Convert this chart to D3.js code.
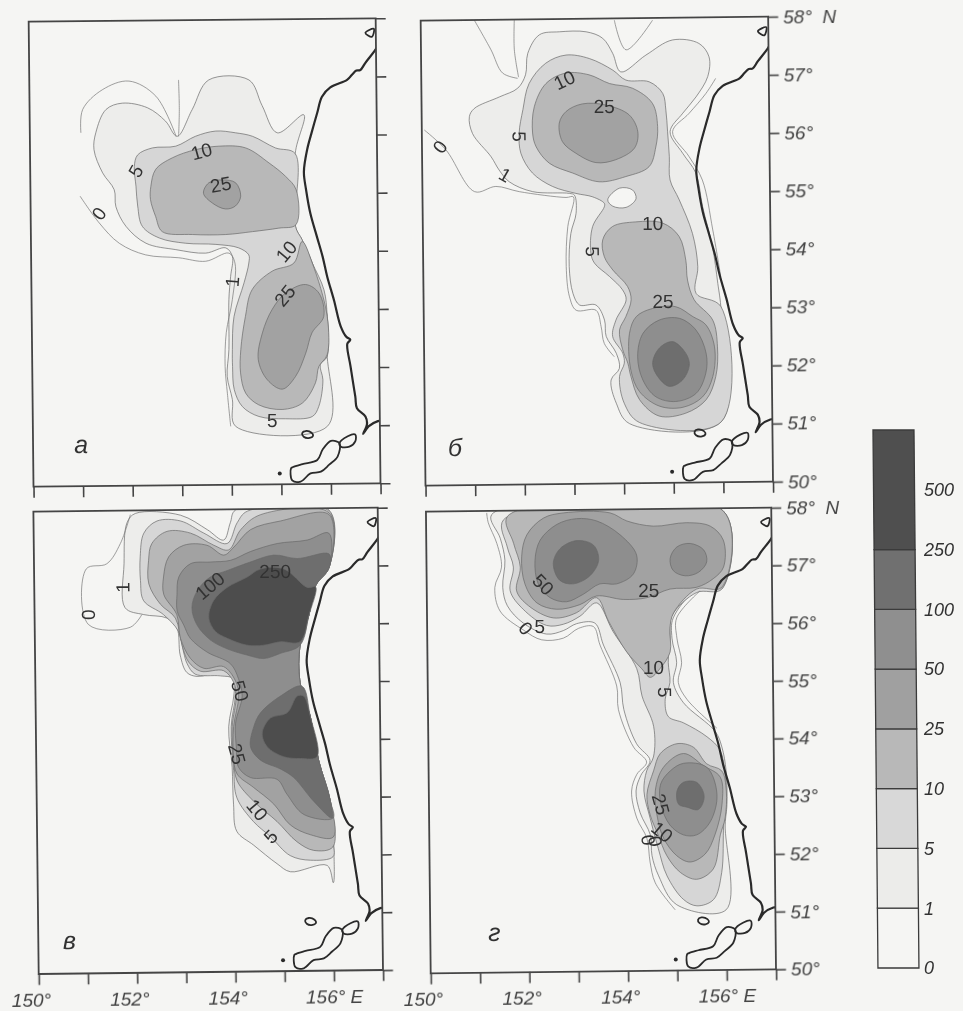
<!DOCTYPE html>
<html>
<head>
<meta charset="utf-8">
<script src="https://cdn.jsdelivr.net/npm/d3@7"></script>
<style>
  html, body { margin: 0; padding: 0; background: #f5f5f3; }
  svg { display: block; }
  text { font-family: "Liberation Sans", sans-serif; fill: #333; }
  .tick text { font-style: italic; font-size: 19px; fill: #444; }
</style>
</head>
<body>
<svg id="chart" width="963" height="1011"></svg>
<script>
// isoline levels and the legend
const legendLabels = ['0', '1', '5', '10', '25', '50', '100', '250', '500'];
const levels = [1, 5, 10, 25, 50, 100, 250];
const levelFills = ['#ededeb', '#d6d6d6', '#b8b8b8', '#a2a2a2', '#8e8e8e', '#6e6e6e', '#4e4e4e'];
const legendFills = ['#f5f5f3', '#ececea', '#d8d8d8', '#b8b8b8', '#a0a0a0', '#8f8f8f', '#707070', '#505050'];

// coast [lon, lat]
const coast = [[157.05,57.55],[156.99,57.46],[156.78,57.23],[156.68,57.11],[156.60,57.1],[156.51,57.03],[156.41,56.94],[156.07,56.81],[155.90,56.65],[155.80,56.37],[155.69,56.05],[155.59,55.74],[155.52,55.36],[155.56,55.05],[155.64,54.65],[155.77,54.24],[155.88,53.90],[155.97,53.55],[156.10,53.15],[156.23,52.70],[156.34,52.52],[156.42,52.47],[156.36,52.40],[156.42,52.01],[156.51,51.49],[156.54,51.29],[156.71,51.15],[156.74,51.02],[156.66,50.85],[156.77,50.98],[156.96,51.07],[157.05,51.08]];
const islandOne = [[155.20,50.26],[155.22,50.05],[155.39,50.03],[155.59,50.17],[155.80,50.20],[155.97,50.32],[156.14,50.46],[156.18,50.69],[156.01,50.73],[155.84,50.58],[155.73,50.40],[155.43,50.33],[155.24,50.28]];
const islandTwo = [[156.18,50.69],[156.35,50.81],[156.50,50.84],[156.50,50.72],[156.38,50.63],[156.21,50.63]];
const islandOval = [[155.43,50.86],[155.50,50.90],[155.62,50.87],[155.65,50.82],[155.58,50.78],[155.46,50.80]];
const lake = [[156.79,57.75],[156.96,57.82],[156.92,57.68]];
const islet = [154.97, 50.17];

// panel a
const a1 = [[152.97,55.97],[152.74,56.23],[152.38,56.46],[151.87,56.54],[151.54,56.43],[151.33,56.03],[151.29,55.74],[151.46,55.34],[151.69,55.05],[151.72,54.76],[151.92,54.42],[152.32,54.13],[152.92,54.02],[153.52,53.96],[153.93,54.05],[154.06,53.90],[154.02,53.56],[153.98,53.16],[153.97,52.30],[153.93,51.84],[154.03,51.44],[154.09,50.98],[155.94,50.98],[155.95,52.24],[155.96,52.87],[155.67,53.79],[155.47,54.19],[155.34,54.42],[155.35,55.68],[155.53,56.34],[154.99,56.03],[154.69,56.5],[154.43,56.94],[153.62,56.94],[153.28,56.43]];
const a5 = [[152.17,55.65],[152.47,55.77],[152.94,55.80],[153.34,55.97],[153.75,56.06],[154.15,56.03],[154.49,55.97],[154.95,55.77],[155.35,55.67],[155.34,54.42],[155.47,54.19],[155.67,53.79],[155.90,53.33],[155.96,52.87],[155.95,52.18],[155.81,52.04],[155.86,51.78],[155.77,51.32],[155.64,51.15],[155.10,51.11],[154.56,51.15],[154.23,51.32],[154.07,51.61],[154.04,52.01],[154.04,52.30],[154.08,52.87],[154.29,53.45],[154.39,53.79],[154.39,53.93],[154.19,54.05],[153.73,54.11],[153.12,54.13],[152.59,54.22],[152.25,54.42],[152.16,54.77],[152.13,55.11],[152.10,55.45]];
const a10Upper = [[152.43,55.11],[152.53,55.40],[152.87,55.60],[153.34,55.74],[153.81,55.80],[154.35,55.77],[154.82,55.51],[155.15,55.28],[155.36,55.05],[155.35,54.45],[155.00,54.39],[154.47,54.33],[153.93,54.28],[153.26,54.28],[152.65,54.33],[152.52,54.59],[152.42,54.88]];
const a10Lower = [[155.47,54.16],[155.30,53.79],[154.86,53.65],[154.45,53.33],[154.31,52.87],[154.21,52.30],[154.20,51.90],[154.30,51.55],[154.56,51.35],[155.03,51.27],[155.44,51.38],[155.71,51.73],[155.78,52.01],[155.95,52.21],[155.96,52.87],[155.67,53.79]];
const a25Upper = [[153.49,54.99],[153.60,55.17],[153.87,55.22],[154.14,55.17],[154.24,54.94],[154.13,54.77],[153.93,54.72],[153.67,54.82]];
const a25Lower = [[154.85,52.99],[155.12,53.27],[155.53,53.42],[155.80,53.27],[155.89,52.87],[155.65,52.59],[155.52,52.24],[155.31,51.84],[155.04,51.62],[154.74,51.78],[154.56,52.13],[154.65,52.59]];
const aZeroLines = [
  [[151.00,54.94],[151.38,54.48],[151.78,54.13],[152.31,53.93],[152.98,53.88],[153.52,53.82],[153.99,53.96],[154.11,53.79],[154.05,53.16],[153.92,52.59],[153.89,52.01],[153.93,51.55],[153.99,50.98]],
  [[151.03,56.03],[151.07,56.43],[151.47,56.77],[152.01,56.92],[152.55,56.66],[152.95,55.97]],
  [[153.0,55.97],[153.02,56.43],[153.01,56.94]]
];
const aLabels = [['10',153.46,55.71,-15],['5',152.13,55.37,-60],['25',153.84,55.14,-10],['0',151.38,54.64,-55],['10',155.15,53.99,-50],['1',154.05,53.47,-85],['25',155.11,53.23,-50],['5',154.83,51.08,0]];

// panel b
const b1 = [[150.96,56.28],[151.06,56.42],[151.57,56.62],[151.94,56.77],[152.10,57.0],[152.15,57.37],[152.39,57.69],[152.79,57.74],[153.33,57.74],[153.66,57.63],[153.86,57.37],[154.02,57.05],[154.53,57.34],[155.07,57.60],[155.60,57.54],[155.80,57.31],[155.77,56.97],[155.53,56.62],[155.26,56.34],[155.00,56.02],[155.25,55.65],[155.51,55.31],[155.64,54.73],[155.83,54.04],[155.93,53.41],[155.99,52.95],[155.97,51.03],[154.12,51.0],[153.86,51.35],[153.76,51.75],[153.93,51.95],[153.87,52.21],[153.67,52.50],[153.64,52.78],[153.47,53.04],[153.14,53.04],[153.01,53.24],[152.94,53.70],[152.98,54.27],[153.09,54.62],[153.06,54.93],[152.96,54.96],[152.22,54.99],[151.75,55.16],[151.55,55.36],[151.39,55.59],[151.02,55.99]];
const b5 = [[151.96,56.0],[152.04,56.40],[152.17,56.85],[152.51,57.20],[152.92,57.34],[153.39,57.28],[153.86,57.08],[154.12,56.91],[154.59,56.88],[154.86,56.68],[154.92,56.39],[154.95,56.02],[154.98,55.59],[154.99,55.19],[155.17,54.85],[155.43,54.27],[155.53,53.70],[155.49,53.24],[155.99,53.01],[155.97,51.03],[154.32,51.02],[154.02,51.35],[153.93,51.81],[154.03,52.04],[154.0,52.21],[153.80,52.50],[153.87,52.78],[154.08,53.13],[154.01,53.30],[153.75,53.53],[153.45,53.76],[153.38,53.93],[153.42,54.39],[153.66,54.73],[153.66,54.79],[153.43,54.90],[153.09,54.96],[152.62,55.08],[152.22,55.31],[151.99,55.65]];
const bHole = [[153.73,54.85],[153.97,55.05],[154.23,55.02],[154.30,54.87],[154.10,54.72],[153.83,54.74]];
const b10Upper = [[152.23,56.0],[152.27,56.45],[152.51,56.85],[152.91,57.03],[153.38,57.0],[153.79,56.85],[154.25,56.77],[154.65,56.51],[154.75,56.11],[154.71,55.76],[154.57,55.42],[154.10,55.25],[153.56,55.16],[153.03,55.31],[152.56,55.48],[152.30,55.76]];
const b10Lower = [[153.62,54.16],[153.82,54.39],[154.29,54.47],[154.83,54.45],[155.16,54.22],[155.29,53.81],[155.32,53.47],[155.45,53.13],[155.82,52.78],[155.91,52.32],[155.87,51.81],[155.67,51.41],[155.26,51.18],[154.72,51.13],[154.33,51.41],[154.16,51.81],[154.10,52.04],[154.0,52.27],[153.94,52.61],[154.07,52.84],[154.18,53.13],[154.11,53.36],[153.82,53.64],[153.65,53.87]];
const b25Upper = [[152.77,56.17],[152.91,56.37],[153.24,56.50],[153.71,56.48],[154.18,56.31],[154.35,56.02],[154.28,55.74],[153.90,55.54],[153.50,55.49],[153.10,55.65],[152.83,55.85]];
const b25Lower = [[154.14,52.55],[154.28,52.84],[154.61,52.98],[155.08,53.01],[155.42,52.84],[155.68,52.70],[155.85,52.32],[155.81,51.81],[155.60,51.46],[155.20,51.28],[154.73,51.30],[154.33,51.55],[154.16,51.92]];
const b50 = [[154.30,52.15],[154.41,52.55],[154.74,52.78],[155.15,52.81],[155.48,52.61],[155.68,52.21],[155.67,51.87],[155.47,51.52],[155.06,51.38],[154.66,51.46],[154.40,51.75]];
const b100 = [[154.60,52.04],[154.74,52.30],[155.01,52.41],[155.27,52.21],[155.34,52.01],[155.20,51.75],[154.93,51.64],[154.70,51.81]];
const bZeroLines = [
  [[150.05,56.05],[150.48,55.71],[151.05,54.99],[151.48,55.08],[151.95,54.99],[152.89,54.89],[153.04,54.90],[152.92,54.39],[152.88,53.70],[152.94,53.18],[153.07,52.95],[153.47,52.95],[153.57,52.67],[153.63,52.38],[153.83,52.15]],
  [[151.08,57.94],[151.41,57.43],[151.64,57.03],[151.94,56.94]],
  [[151.885,57.94],[151.88,57.43],[151.96,56.96]],
  [[153.90,57.94],[154.13,57.43],[154.67,57.94]],
  [[155.93,56.94],[155.73,56.68],[155.39,56.34],[155.05,56.02],[155.38,55.59],[155.64,55.19],[155.84,54.33],[155.99,53.53]]
];
const bLabels = [['10',152.88,56.91,-25],['25',153.68,56.45,0],['5',151.96,55.94,90],['0',150.36,55.76,-55],['1',151.67,55.28,30],['10',154.63,54.45,0],['5',153.41,53.96,90],['25',154.82,53.1,0]];

// panel c, shared east edge of the survey
const cEast = [[156.0,56.97],[155.72,56.65],[155.58,56.15],[155.39,55.62],[155.38,54.98],[155.58,54.39],[155.74,53.63],[155.97,52.92]];
const c1 = [[151.90,57.74],[152.07,57.90],[152.99,57.87],[153.53,57.62],[153.86,57.44],[154.0,57.74],[154.11,57.96],[156.01,57.96],...cEast,[156.03,52.04],[156.01,51.51],[155.89,51.81],[155.14,51.70],[154.87,51.84],[154.40,52.16],[154.06,52.40],[154.0,52.87],[153.98,53.51],[153.92,54.21],[154.03,54.74],[154.03,55.09],[153.76,55.15],[153.29,55.08],[153.08,55.15],[152.95,55.45],[152.89,55.92],[152.69,56.09],[152.22,56.15],[151.84,56.27],[151.83,57.03]];
const c5 = [[152.16,57.15],[152.24,57.56],[152.51,57.77],[152.99,57.77],[153.46,57.56],[153.93,57.38],[154.14,57.74],[154.35,57.94],[156.01,57.94],...cEast,[156.02,52.2],[156.01,51.96],[155.55,51.9],[155.14,51.98],[154.74,52.31],[154.40,52.57],[154.07,52.98],[154.01,53.45],[153.97,54.21],[154.06,54.74],[154.03,55.04],[153.76,55.09],[153.25,55.12],[153.09,55.30],[153.02,55.50],[152.92,55.86],[152.62,56.15],[152.22,56.39],[152.16,56.74]];
const c10 = [[152.33,57.09],[152.40,57.38],[152.71,57.59],[153.19,57.56],[153.66,57.35],[153.96,57.27],[154.21,57.62],[154.62,57.88],[156.01,57.91],...cEast,[156.01,52.13],[155.62,52.07],[155.28,52.22],[154.88,52.57],[154.41,52.92],[154.08,53.27],[154.01,53.63],[153.99,54.21],[154.08,54.74],[154.03,54.98],[153.83,55.18],[153.36,55.17],[153.12,55.33],[152.99,55.62],[152.86,56.09],[152.56,56.33],[152.33,56.68]];
const c25 = [[152.63,56.80],[152.74,57.15],[153.05,57.35],[153.52,57.35],[153.86,57.18],[154.07,57.32],[154.41,57.62],[155.02,57.77],[156.01,57.88],...cEast,[156.02,52.30],[155.56,52.34],[155.15,52.51],[154.82,52.87],[154.41,53.16],[154.08,53.39],[154.01,53.69],[154.02,54.21],[154.13,54.74],[154.07,55.0],[153.83,55.25],[153.43,55.22],[153.16,55.39],[152.96,55.74],[152.89,56.15],[152.63,56.50]];
const c50 = [[152.90,56.50],[152.94,56.80],[153.18,57.03],[153.59,57.06],[154.0,57.09],[154.40,57.24],[154.95,57.38],[155.56,57.44],[156.0,57.56],...cEast,[156.02,52.63],[155.43,52.69],[155.09,53.04],[154.89,53.30],[154.35,53.33],[154.11,53.51],[154.07,53.86],[154.06,54.27],[154.20,54.74],[154.13,55.04],[153.97,55.30],[153.50,55.50],[153.16,55.74],[153.03,55.97],[152.90,56.21]];
const c100Upper = [[153.20,56.27],[153.31,56.56],[153.58,56.80],[153.92,56.91],[154.40,57.06],[154.88,57.18],[155.35,57.12],[156.0,57.2],[156.0,56.97],[155.72,56.65],[155.58,56.15],[155.39,55.62],[154.99,55.48],[154.65,55.39],[154.31,55.45],[153.90,55.56],[153.57,55.71],[153.30,55.97]];
const c100Lower = [[154.43,54.21],[154.57,54.45],[154.98,54.74],[155.42,54.91],[155.58,54.39],[155.74,53.63],[155.97,52.92],[156.0,52.63],[155.63,52.92],[155.23,53.33],[154.96,53.48],[154.56,53.63],[154.36,53.86]];
const c250Upper = [[153.54,56.09],[153.64,56.39],[153.92,56.62],[154.33,56.80],[154.60,56.94],[155.08,56.94],[155.55,56.62],[155.72,56.63],[155.58,56.15],[155.39,55.68],[154.99,55.68],[154.65,55.62],[154.31,55.62],[153.91,55.74],[153.67,55.86]];
const c250Lower = [[154.60,54.1],[154.77,54.36],[155.11,54.45],[155.32,54.74],[155.45,54.74],[155.58,54.39],[155.71,53.69],[155.37,53.66],[155.03,53.69],[154.70,53.86]];
const cZeroLines = [
  [[151.97,57.88],[151.76,57.38],[151.48,57.03],[151.06,56.94],[151.09,55.98],[151.94,55.93],[152.18,56.15]]
];
const cLabels = [['1',151.8,56.62,-90],['0',151.09,56.15,-90],['100',153.57,56.65,-40],['250',154.9,56.9,0],['50',154.16,54.83,75],['25',154.08,53.74,75],['10',154.48,52.77,50],['5',154.75,52.31,-45]];

// panel d
const d1 = [[151.33,57.88],[151.50,57.47],[151.59,57.09],[151.54,56.62],[151.63,56.30],[151.95,56.0],[152.42,55.81],[152.76,55.87],[153.03,55.99],[153.40,56.0],[153.57,55.62],[153.90,54.97],[153.97,54.50],[154.22,53.91],[154.49,53.62],[154.30,53.36],[154.20,53.09],[154.28,52.71],[154.48,52.33],[154.51,51.97],[154.64,51.62],[155.0,51.12],[156.0,51.03],[156.0,52.50],[156.04,52.86],[156.03,53.44],[155.95,53.85],[155.82,54.12],[155.18,54.62],[154.98,54.97],[155.05,55.32],[154.96,55.74],[154.99,56.09],[155.51,56.59],[155.98,56.59],[156.03,57.94]];
const d5 = [[151.57,57.79],[151.64,57.32],[151.76,56.97],[151.69,56.56],[151.95,56.24],[152.42,55.96],[152.76,55.98],[153.10,56.12],[153.44,56.35],[153.77,55.85],[154.24,55.21],[154.34,54.74],[154.57,54.21],[154.56,53.68],[154.42,53.44],[154.36,53.09],[154.48,52.62],[154.64,52.09],[154.81,51.62],[155.14,51.21],[155.41,51.10],[155.75,51.21],[155.92,51.68],[155.97,52.50],[156.02,52.86],[156.01,53.38],[155.91,53.80],[155.65,54.03],[155.18,54.27],[154.87,54.38],[154.81,54.68],[154.91,54.97],[154.88,55.32],[154.92,55.74],[154.96,56.12],[155.47,56.53],[155.98,56.59],[156.03,57.94]];
const d10Upper = [[151.65,57.85],[151.77,57.38],[151.90,56.97],[151.82,56.56],[152.06,56.30],[152.56,56.09],[153.03,56.18],[153.44,56.44],[153.68,56.03],[154.04,55.50],[154.34,55.21],[154.51,55.06],[154.71,55.21],[154.92,55.50],[154.92,55.91],[155.0,56.18],[155.47,56.59],[155.98,56.62],[156.03,57.94]];
const d10Lower = [[154.70,53.74],[155.04,53.91],[155.37,53.85],[155.64,53.56],[155.94,53.44],[156.03,53.09],[156.0,52.62],[155.90,52.33],[155.75,51.74],[155.41,51.56],[155.08,51.68],[154.81,51.97],[154.64,52.33],[154.48,52.68],[154.42,53.03],[154.56,53.44]];
const d25Upper = [[151.93,57.15],[151.99,56.68],[152.23,56.35],[152.63,56.24],[153.10,56.32],[153.44,56.47],[153.98,56.41],[154.46,56.44],[154.93,56.59],[155.47,56.62],[155.81,56.77],[156.02,56.97],[156.02,57.44],[155.76,57.68],[155.28,57.74],[154.61,57.68],[154.07,57.77],[153.73,57.91],[152.79,57.91],[152.38,57.82],[152.04,57.53]];
const d25Lower = [[154.59,53.09],[154.76,53.50],[155.17,53.74],[155.57,53.53],[155.91,53.33],[155.94,52.86],[155.79,52.33],[155.59,52.0],[155.28,51.86],[155.01,51.97],[154.75,52.27],[154.63,52.62]];
const d50Upper = [[152.20,57.09],[152.31,57.44],[152.65,57.71],[153.05,57.81],[153.46,57.77],[153.93,57.53],[154.26,57.18],[154.19,56.85],[153.85,56.68],[153.51,56.68],[153.17,56.50],[152.83,56.37],[152.50,56.44],[152.26,56.68]];
const d50Right = [[154.94,57.12],[155.08,57.32],[155.35,57.38],[155.62,57.27],[155.68,57.06],[155.51,56.88],[155.24,56.82],[155.0,56.91]];
const d50Lower = [[154.70,53.21],[154.90,53.44],[155.17,53.57],[155.64,53.50],[155.84,53.03],[155.70,52.56],[155.42,52.33],[155.15,52.33],[154.88,52.50],[154.70,52.86]];
const d100Upper = [[152.57,57.03],[152.71,57.29],[153.05,57.43],[153.39,57.35],[153.49,57.09],[153.31,56.82],[152.97,56.68],[152.70,56.74]];
const d100Lower = [[155.03,53.09],[155.16,53.24],[155.43,53.24],[155.58,53.0],[155.46,52.77],[155.23,52.81],[155.06,52.86]];
const dZeroLines = [
  [[151.23,57.91],[151.26,57.74],[151.43,57.38],[151.52,56.97],[151.38,56.62],[151.48,56.21],[151.95,55.88],[152.32,55.71],[152.76,55.74],[153.07,55.91],[153.37,55.94],[153.50,55.62],[153.83,54.91],[153.86,54.50],[154.16,53.85],[154.42,53.59],[154.22,53.38],[154.11,53.09],[154.21,52.62],[154.41,52.27],[154.47,51.86],[154.57,51.50],[154.97,51.03]],
  [[155.54,56.56],[155.06,56.09],[155.06,55.74],[155.15,55.32],[155.08,54.97],[155.25,54.68],[155.85,54.18]]
];
const dLabels = [['50',152.36,56.67,45],['25',154.5,56.56,0],['0',152.0,55.91,50],['5',152.28,55.94,0],['10',154.58,55.24,0],['5',154.8,54.8,90],['25',154.7,52.86,75],['10',154.72,52.38,40],['0',154.44,52.24,80],['0',154.58,52.22,80]];

const lonTicks = d3.range(150, 158);
const latTicks = d3.range(50, 59);

const svg = d3.select('#chart');
const defs = svg.append('defs');

// scan softness
defs.append('filter').attr('id', 'soft')
  .append('feGaussianBlur').attr('stdDeviation', 0.55);

const root = svg.append('g').attr('filter', 'url(#soft)');

const levelColor = d3.scaleOrdinal(levels, levelFills);

function drawPanel(p) {
  const width = p.width, height = p.height;

  // the page sits slightly turned on the scanner
  const dataMatrix = 'matrix(1,0,' + p.shear + ',1,' + (p.left - p.shear * height) + ',' + p.top + ')';
  const frameMatrix = 'matrix(1,' + (-p.tilt) + ',' + p.shear + ',1,' + (p.left - p.shear * height) + ',' + (p.top + p.tilt * width) + ')';

  defs.append('clipPath').attr('id', 'clip-' + p.id)
    .append('rect').attr('transform', frameMatrix).attr('width', width).attr('height', height);

  const clipped = root.append('g').attr('clip-path', 'url(#clip-' + p.id + ')');
  const g = clipped.append('g').attr('transform', dataMatrix);
  const top = root.append('g').attr('transform', dataMatrix);
  const frame = root.append('g').attr('transform', frameMatrix);

  const x = d3.scaleLinear().domain([150, 157]).range([0, width]);
  const y = d3.scaleLinear().domain([50, 58]).range([height, 0]);

  const closed = d3.line().x(d => x(d[0])).y(d => y(d[1])).curve(d3.curveCatmullRomClosed.alpha(0.5));
  const open = d3.line().x(d => x(d[0])).y(d => y(d[1])).curve(d3.curveCatmullRom.alpha(0.5));

  g.selectAll('path.ring').data(p.rings).enter().append('path')
    .attr('class', 'ring')
    .attr('d', d => closed(d[1]))
    .attr('fill', d => levelColor(d[0]))
    .attr('stroke', '#6a6a6a')
    .attr('stroke-width', 0.7);

  g.selectAll('path.hole').data(p.holes || []).enter().append('path')
    .attr('class', 'hole')
    .attr('d', closed)
    .attr('fill', '#f5f5f3')
    .attr('stroke', '#6a6a6a')
    .attr('stroke-width', 0.7);

  g.selectAll('path.zero').data(p.zeros).enter().append('path')
    .attr('class', 'zero')
    .attr('d', open)
    .attr('fill', 'none')
    .attr('stroke', '#777')
    .attr('stroke-width', 0.7);

  // land
  g.append('path').attr('d', open(coast))
    .attr('fill', 'none').attr('stroke', '#2a2a2a').attr('stroke-width', 2.2);
  g.selectAll('path.isle').data([islandOne, islandTwo, islandOval, lake]).enter().append('path')
    .attr('class', 'isle')
    .attr('d', closed)
    .attr('fill', 'none').attr('stroke', '#2a2a2a').attr('stroke-width', 1.8);
  g.append('circle').attr('cx', x(islet[0])).attr('cy', y(islet[1])).attr('r', 2).attr('fill', '#2a2a2a');

  // contour labels
  top.selectAll('text.lab').data(p.labels).enter().append('text')
    .attr('class', 'lab')
    .attr('text-anchor', 'middle')
    .attr('dy', '0.35em')
    .attr('font-size', 19)
    .attr('transform', d => 'translate(' + x(d[1]) + ',' + y(d[2]) + ') rotate(' + d[3] + ')')
    .text(d => d[0]);

  top.append('text')
    .attr('x', x(p.letterAt[0]))
    .attr('y', y(p.letterAt[1]))
    .attr('text-anchor', 'middle')
    .attr('dy', '0.35em')
    .attr('font-size', 25)
    .attr('font-style', 'italic')
    .text(p.letter);

  // frame and axes
  frame.append('rect').attr('width', width).attr('height', height)
    .attr('fill', 'none').attr('stroke', '#444').attr('stroke-width', 1.8);

  const xAxis = d3.axisBottom(x).tickValues(lonTicks).tickSize(11).tickPadding(8)
    .tickFormat(d => {
      if (!p.lonLabels || d % 2) return '';
      return d === 156 ? d + '° E' : d + '°';
    });
  const yAxis = d3.axisRight(y).tickValues(latTicks).tickSize(10).tickPadding(5)
    .tickFormat(d => {
      if (!p.latLabels) return '';
      return d === 58 ? d + '°\u00a0\u00a0N' : d + '°';
    });

  frame.append('g').attr('transform', 'translate(0,' + height + ')').call(xAxis)
    .call(s => s.select('.domain').remove())
    .call(s => s.selectAll('line').attr('stroke', '#444').attr('stroke-width', 1.6))
    .call(s => s.selectAll('text').attr('dx', d => d === 156 ? 0 : -8));
  frame.append('g').attr('transform', 'translate(' + width + ',0)').call(yAxis)
    .call(s => s.select('.domain').remove())
    .call(s => s.selectAll('line').attr('stroke', '#444').attr('stroke-width', 1.6));
}

drawPanel({
  id: 'a', left: 33.5, top: 18.3, width: 347, height: 465, shear: 0.0104, tilt: 0.0098,
  letter: 'а', letterAt: [150.97, 50.67], lonLabels: false, latLabels: false,
  rings: [[1, a1], [5, a5], [10, a10Upper], [10, a10Lower], [25, a25Upper], [25, a25Lower]],
  zeros: aZeroLines, labels: aLabels
});
drawPanel({
  id: 'b', left: 425.5, top: 16.7, width: 347.5, height: 465, shear: 0.0104, tilt: 0.0115,
  letter: 'б', letterAt: [150.6, 50.6], lonLabels: false, latLabels: true,
  rings: [[1, b1], [5, b5], [10, b10Upper], [10, b10Lower], [25, b25Upper], [25, b25Lower], [50, b50], [100, b100]],
  holes: [bHole], zeros: bZeroLines, labels: bLabels
});
drawPanel({
  id: 'c', left: 38.7, top: 507.7, width: 344.3, height: 462.3, shear: 0.0115, tilt: 0.0116,
  letter: 'в', letterAt: [150.63, 50.51], lonLabels: true, latLabels: false,
  rings: [[1, c1], [5, c5], [10, c10], [25, c25], [50, c50], [100, c100Upper], [100, c100Lower], [250, c250Upper], [250, c250Lower]],
  zeros: cZeroLines, labels: cLabels
});
drawPanel({
  id: 'd', left: 430.7, top: 507.7, width: 345.3, height: 461.6, shear: 0.0103, tilt: 0.0116,
  letter: 'г', letterAt: [151.3, 50.65], lonLabels: true, latLabels: true,
  rings: [[1, d1], [5, d5], [10, d10Upper], [10, d10Lower], [25, d25Upper], [25, d25Lower], [50, d50Upper], [50, d50Right], [50, d50Lower], [100, d100Upper], [100, d100Lower]],
  zeros: dZeroLines, labels: dLabels
});

// legend, the top box is two steps tall
const legendY = d3.scaleLinear().domain([0, 9]).range([968, 430]);
const legend = root.append('g').attr('transform', 'skewX(0.53)');

legend.selectAll('rect').data(legendFills).enter().append('rect')
  .attr('x', 869)
  .attr('y', (d, i) => legendY(i === 7 ? 9 : i + 1))
  .attr('width', 41)
  .attr('height', (d, i) => legendY(i) - legendY(i === 7 ? 9 : i + 1))
  .attr('fill', d => d)
  .attr('stroke', '#3a3a3a')
  .attr('stroke-width', 1.3);

root.selectAll('text.leg').data(legendLabels).enter().append('text')
  .attr('class', 'leg')
  .attr('x', 924)
  .attr('y', (d, i) => legendY(i))
  .attr('dy', '0.35em')
  .attr('font-size', 18)
  .attr('font-style', 'italic')
  .text(d => d);
</script>
</body>
</html>
